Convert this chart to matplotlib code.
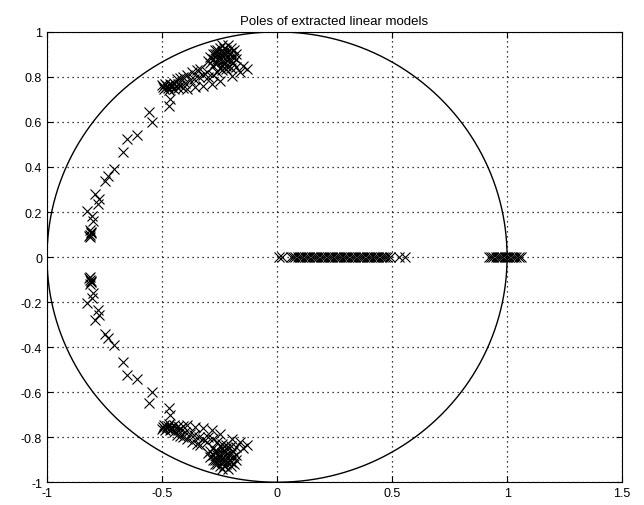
import numpy as np
from matplotlib import pyplot as plt

plt.rcParams['font.family'] = ['Liberation Sans', 'DejaVu Sans']
plt.rcParams['axes.unicode_minus'] = False

# complex poles (upper half); lower half are the conjugates
arm_re = [-0.813, -0.815, -0.81, -0.812, -0.808, -0.816, -0.827, -0.806, -0.80,
          -0.79, -0.773, -0.78, -0.748, -0.733, -0.709, -0.668, -0.653, -0.61,
          -0.557, -0.542, -0.468, -0.465]
arm_im = [0.09, 0.10, 0.11, 0.12, 0.105, 0.095, 0.206, 0.184, 0.16,
          0.28, 0.258, 0.235, 0.34, 0.36, 0.39, 0.465, 0.524, 0.54,
          0.646, 0.60, 0.672, 0.70]

band_re = [-0.494, -0.48, -0.465, -0.45, -0.436, -0.42, -0.407, -0.39, -0.37, -0.35,
           -0.335, -0.306, -0.49, -0.47, -0.45, -0.43, -0.41, -0.39, -0.356, -0.32,
           -0.284, -0.248, -0.197, -0.16, -0.13, -0.15, -0.5, -0.485, -0.46, -0.44,
           -0.475, -0.455, -0.43, -0.42, -0.40, -0.38, -0.36, -0.34, -0.32, -0.30,
           -0.28, -0.26, -0.24, -0.22, -0.20, -0.18]
band_im = [0.754, 0.76, 0.77, 0.775, 0.79, 0.795, 0.80, 0.81, 0.82, 0.83,
           0.835, 0.82, 0.745, 0.74, 0.745, 0.75, 0.75, 0.747, 0.754, 0.76,
           0.769, 0.784, 0.806, 0.82, 0.835, 0.85, 0.765, 0.77, 0.755, 0.76,
           0.75, 0.765, 0.77, 0.765, 0.775, 0.785, 0.79, 0.80, 0.81, 0.80,
           0.81, 0.82, 0.83, 0.835, 0.84, 0.845]

blob_re = [-0.29, -0.28, -0.27, -0.26, -0.25, -0.24, -0.23, -0.22, -0.21, -0.20,
           -0.19, -0.20, -0.22, -0.24, -0.26, -0.28, -0.27, -0.25, -0.23, -0.21,
           -0.19, -0.22, -0.24, -0.26, -0.25, -0.23, -0.21, -0.18, -0.20, -0.24,
           -0.27, -0.29, -0.30, -0.22, -0.26, -0.28, -0.18, -0.185, -0.215, -0.235]
blob_im = [0.86, 0.88, 0.90, 0.92, 0.93, 0.91, 0.93, 0.92, 0.90, 0.91,
           0.89, 0.87, 0.88, 0.87, 0.88, 0.85, 0.86, 0.89, 0.90, 0.88,
           0.86, 0.85, 0.85, 0.86, 0.84, 0.86, 0.85, 0.88, 0.93, 0.94,
           0.92, 0.89, 0.87, 0.90, 0.90, 0.90, 0.90, 0.92, 0.94, 0.89]

# real poles
real_poles = [0.01, 0.02, 0.06, 0.07, 0.08, 0.09, 0.10, 0.11, 0.12, 0.13, 0.14,
              0.15, 0.16, 0.17, 0.18, 0.19, 0.20, 0.21, 0.22, 0.23, 0.24, 0.25,
              0.26, 0.27, 0.28, 0.29, 0.30, 0.31, 0.32, 0.33, 0.34, 0.35, 0.36,
              0.37, 0.38, 0.39, 0.40, 0.41, 0.42, 0.43, 0.44, 0.45, 0.46, 0.47,
              0.48, 0.49, 0.53, 0.555,
              0.92, 0.93, 0.94, 0.95, 0.96, 0.97, 0.98, 0.99, 1.00, 1.01, 1.02,
              1.03, 1.04, 1.05, 1.06]

re = np.array(arm_re + band_re + blob_re)
im = np.array(arm_im + band_im + blob_im)

fig = plt.figure(figsize=(6.44, 5.06), dpi=100)
ax = fig.add_axes([0.073, 0.045, 0.893, 0.89])

mk = dict(marker='x', linestyle='none', color='black', markersize=7, markeredgewidth=0.8)
ax.plot(re, im, **mk)
ax.plot(re, -im, **mk)
ax.plot(real_poles, np.zeros(len(real_poles)), **mk)

t = np.linspace(0, 2 * np.pi, 400)
ax.plot(np.cos(t), np.sin(t), color='black', linewidth=1)

ax.set_xlim(-1, 1.5)
ax.set_ylim(-1, 1)
ax.set_xticks([-1, -0.5, 0, 0.5, 1, 1.5])
ax.set_xticklabels(['-1', '-0.5', '0', '0.5', '1', '1.5'])
yt = [-1, -0.8, -0.6, -0.4, -0.2, 0, 0.2, 0.4, 0.6, 0.8, 1]
ax.set_yticks(yt)
ax.set_yticklabels(['-1', '-0.8', '-0.6', '-0.4', '-0.2', '0', '0.2', '0.4', '0.6', '0.8', '1'])
ax.grid(True, linestyle=(0, (1, 3)), color='black', linewidth=0.9)
ax.tick_params(direction='in', top=True, right=True, labelsize=9, length=4)
ax.set_title("Poles of extracted linear models", fontsize=9.5)

fig.savefig("out.png", dpi=100)
